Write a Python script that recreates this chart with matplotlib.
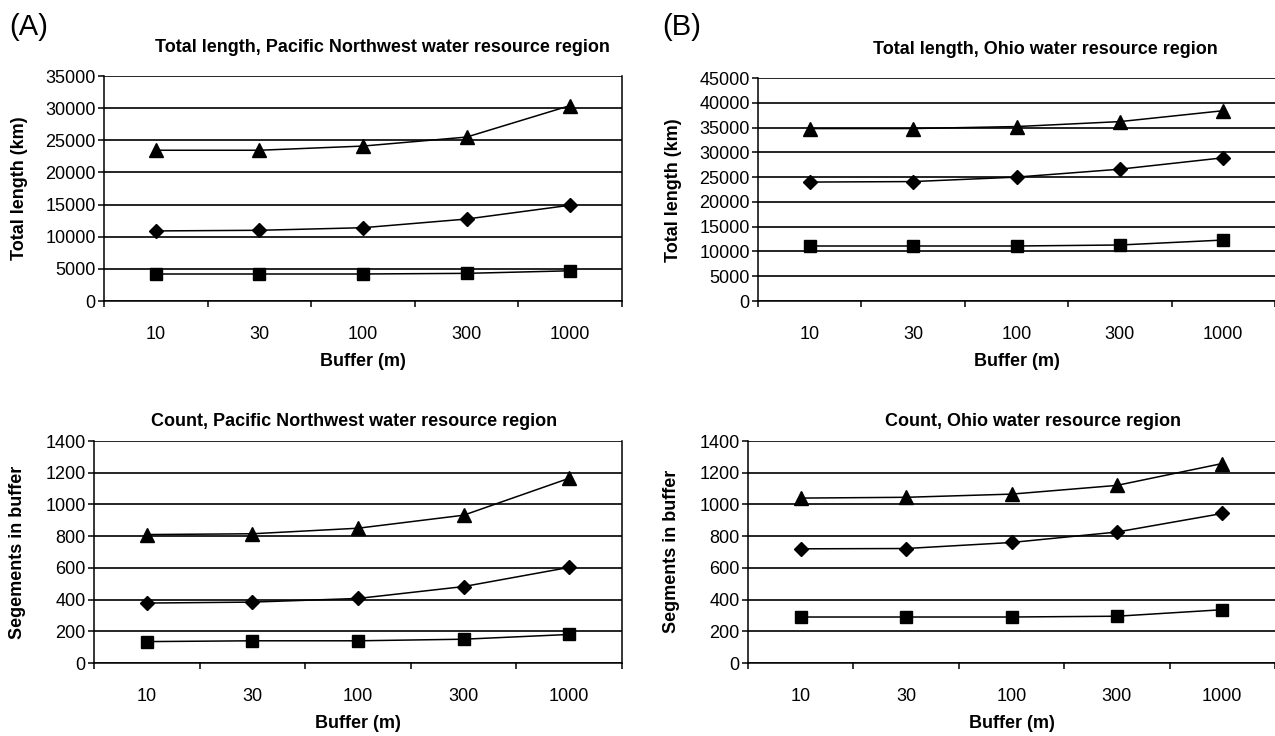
import numpy as np
import matplotlib.pyplot as plt

plt.rcParams['font.family'] = ['Liberation Sans', 'DejaVu Sans']

# categories (buffer width, m)
buffers = ['10', '30', '100', '300', '1000']

# total length (km), Pacific Northwest
pnw_len_tri = [23450, 23450, 24100, 25500, 30400]
pnw_len_dia = [10900, 11000, 11400, 12750, 14900]
pnw_len_sq = [4200, 4200, 4200, 4300, 4700]

# total length (km), Ohio
ohio_len_tri = [34800, 34800, 35200, 36200, 38400]
ohio_len_dia = [24000, 24100, 25000, 26600, 28900]
ohio_len_sq = [11100, 11100, 11100, 11300, 12300]

# segment counts, Pacific Northwest
pnw_cnt_tri = [810, 815, 850, 932, 1165]
pnw_cnt_dia = [378, 384, 407, 482, 603]
pnw_cnt_sq = [135, 140, 140, 150, 180]

# segment counts, Ohio
ohio_cnt_tri = [1040, 1045, 1065, 1120, 1258]
ohio_cnt_dia = [720, 722, 760, 826, 943]
ohio_cnt_sq = [290, 290, 290, 295, 336]

W, H = 1275, 736
fig = plt.figure(figsize=(W / 100, H / 100), dpi=100)


def px_axes(x0, x1, ytop, ybot):
    return fig.add_axes([x0 / W, 1 - ybot / H, (x1 - x0) / W, (ybot - ytop) / H])


def draw_panel(ax, series, ymax, ystep, right_spine=True):
    x = np.arange(len(buffers))
    for vals, mk, ms in series:
        ax.plot(x, vals, color='black', lw=1.1, marker=mk, markersize=ms,
                markerfacecolor='black', markeredgecolor='black', zorder=3)
    ax.set_xlim(-0.5, len(buffers) - 0.5)
    ax.set_ylim(0, ymax)
    ax.set_yticks(np.arange(0, ymax + 1, ystep))
    # tick marks between categories, labels under categories
    ax.set_xticks(np.arange(-0.5, len(buffers), 1.0))
    ax.set_xticklabels([])
    ax.set_xticks(x, minor=True)
    ax.set_xticklabels(buffers, minor=True)
    ax.tick_params(axis='x', which='minor', length=0, pad=18, labelsize=13)
    ax.tick_params(axis='x', which='major', length=4, width=1.1, direction='out')
    ax.tick_params(axis='y', length=4, width=1.1, direction='out', labelsize=13, pad=2)
    ax.yaxis.grid(True, color='black', lw=1.2)
    ax.set_axisbelow(True)
    for s in ax.spines.values():
        s.set_color('black')
        s.set_linewidth(1.1)
    ax.spines['top'].set_visible(False)
    ax.spines['right'].set_visible(right_spine)


ax1 = px_axes(104, 622, 76, 301)
draw_panel(ax1, [(pnw_len_tri, '^', 10), (pnw_len_dia, 'D', 7), (pnw_len_sq, 's', 9)], 35000, 5000)

ax2 = px_axes(758, 1275, 78, 301)
draw_panel(ax2, [(ohio_len_tri, '^', 10), (ohio_len_dia, 'D', 7), (ohio_len_sq, 's', 9)], 45000, 5000, False)

ax3 = px_axes(94, 622, 441, 663)
draw_panel(ax3, [(pnw_cnt_tri, '^', 10), (pnw_cnt_dia, 'D', 7), (pnw_cnt_sq, 's', 9)], 1400, 200)

ax4 = px_axes(748, 1275, 441, 663)
draw_panel(ax4, [(ohio_cnt_tri, '^', 10), (ohio_cnt_dia, 'D', 7), (ohio_cnt_sq, 's', 9)], 1400, 200, False)


def ftext(x, y, s, **kw):
    fig.text(x / W, 1 - y / H, s, ha='center', va='center', **kw)


ftext(29, 27, '(A)', fontsize=21)
ftext(682, 27, '(B)', fontsize=21)

bold = dict(fontsize=13, fontweight='bold')
ftext(382, 48, 'Total length, Pacific Northwest water resource region', **bold)
ftext(1045, 50, 'Total length, Ohio water resource region', **bold)
ftext(354, 421, 'Count, Pacific Northwest water resource region', **bold)
ftext(1033, 421, 'Count, Ohio water resource region', **bold)

for xc, yc in [(363, 362), (1017, 362), (358, 724), (1012, 724)]:
    ftext(xc, yc, 'Buffer (m)', **bold)

ftext(20, 188, 'Total length (km)', rotation=90, **bold)
ftext(673, 190, 'Total length (km)', rotation=90, **bold)
ftext(18, 552, 'Segements in buffer', rotation=90, **bold)
ftext(672, 551, 'Segments in buffer', rotation=90, **bold)

fig.savefig('out.png', dpi=100)
